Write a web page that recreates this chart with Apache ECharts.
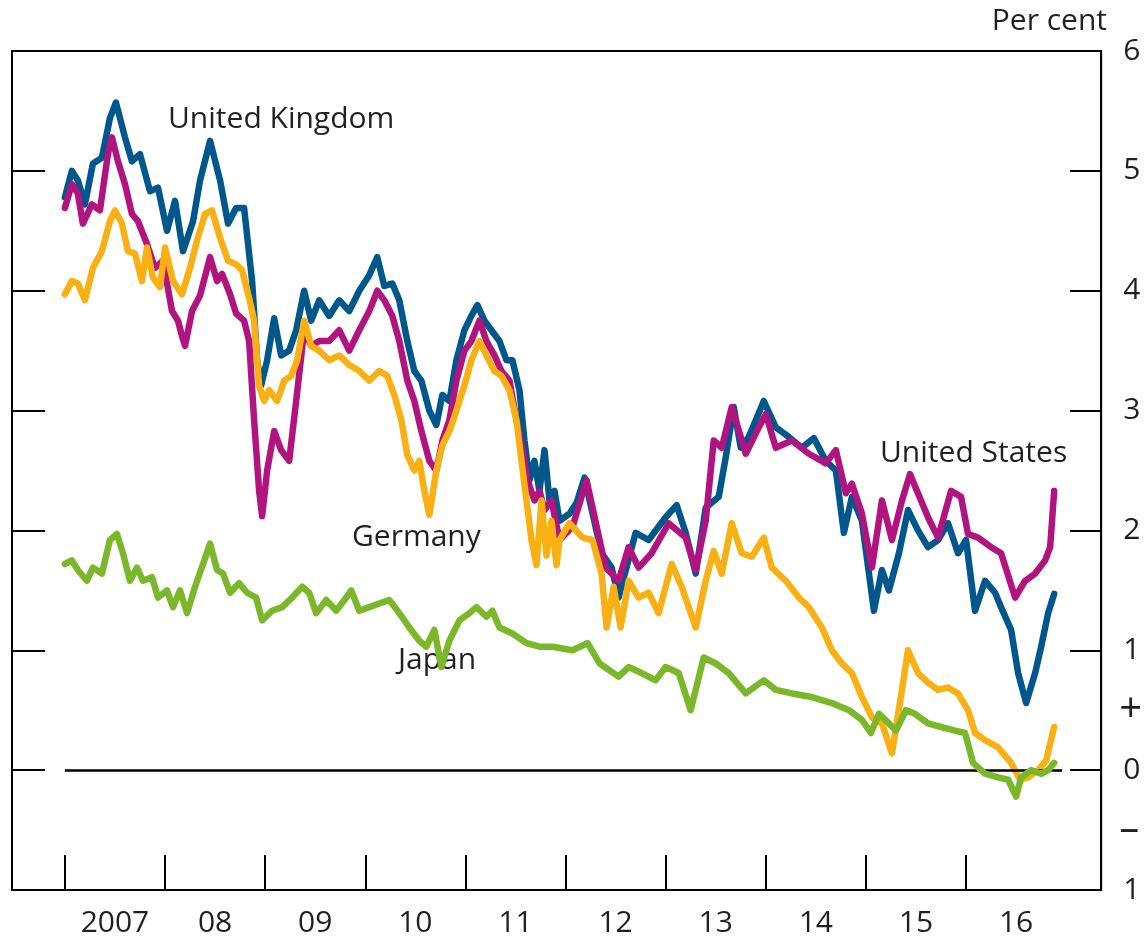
<!DOCTYPE html>
<html>
<head>
<meta charset="utf-8">
<title>Ten-year government bond yields</title>
<script src="https://cdn.jsdelivr.net/npm/echarts@6/dist/echarts.min.js"></script>
<style>
  html, body { margin: 0; padding: 0; background: #fff; }
  #chart { width: 1145px; height: 940px; }
</style>
</head>
<body>
<div id="chart"></div>
<script>
// [decimal year, per cent]
var unitedKingdom = [
  [2007.00, 4.78], [2007.07, 5.00], [2007.13, 4.92], [2007.20, 4.72], [2007.28, 5.06], [2007.37, 5.11],
  [2007.45, 5.44], [2007.51, 5.57], [2007.60, 5.28], [2007.67, 5.08], [2007.75, 5.14], [2007.85, 4.83],
  [2007.93, 4.86], [2008.02, 4.50], [2008.10, 4.75], [2008.18, 4.33], [2008.28, 4.58], [2008.35, 4.92],
  [2008.45, 5.25], [2008.55, 4.92], [2008.63, 4.56], [2008.71, 4.69], [2008.79, 4.69], [2008.87, 4.08],
  [2008.92, 3.42], [2008.96, 3.21], [2009.02, 3.42], [2009.09, 3.77], [2009.16, 3.46], [2009.24, 3.50],
  [2009.31, 3.67], [2009.39, 4.00], [2009.46, 3.75], [2009.54, 3.92], [2009.64, 3.79], [2009.74, 3.92],
  [2009.84, 3.83], [2009.94, 4.00], [2010.04, 4.13], [2010.12, 4.28], [2010.19, 4.04], [2010.27, 4.06],
  [2010.34, 3.92], [2010.42, 3.58], [2010.49, 3.33], [2010.56, 3.25], [2010.64, 3.00], [2010.71, 2.88],
  [2010.77, 3.13], [2010.84, 3.08], [2010.91, 3.42], [2010.99, 3.67], [2011.06, 3.79], [2011.12, 3.88],
  [2011.19, 3.75], [2011.26, 3.67], [2011.34, 3.58], [2011.41, 3.42], [2011.47, 3.42], [2011.54, 3.17],
  [2011.59, 2.75], [2011.64, 2.42], [2011.69, 2.58], [2011.74, 2.33], [2011.79, 2.67], [2011.84, 2.25],
  [2011.89, 2.33], [2011.94, 2.08], [2012.04, 2.14], [2012.11, 2.23], [2012.19, 2.44], [2012.27, 2.14],
  [2012.36, 1.81], [2012.46, 1.69], [2012.53, 1.44], [2012.70, 1.98], [2012.83, 1.92], [2013.00, 2.11],
  [2013.11, 2.21], [2013.20, 1.98], [2013.30, 1.64], [2013.40, 2.19], [2013.53, 2.28], [2013.60, 2.61],
  [2013.68, 3.03], [2013.75, 2.69], [2013.83, 2.78], [2013.90, 2.92], [2013.98, 3.08], [2014.10, 2.86],
  [2014.23, 2.78], [2014.36, 2.69], [2014.48, 2.77], [2014.60, 2.58], [2014.70, 2.50], [2014.78, 1.98],
  [2014.86, 2.28], [2014.96, 2.08], [2015.08, 1.33], [2015.16, 1.67], [2015.23, 1.50], [2015.33, 1.81],
  [2015.42, 2.17], [2015.52, 2.00], [2015.62, 1.86], [2015.72, 1.92], [2015.82, 2.06], [2015.92, 1.81],
  [2016.00, 1.92], [2016.09, 1.33], [2016.19, 1.58], [2016.29, 1.48], [2016.35, 1.36], [2016.45, 1.17],
  [2016.52, 0.81], [2016.60, 0.56], [2016.69, 0.81], [2016.75, 1.03], [2016.82, 1.31], [2016.88, 1.47]
];

var unitedStates = [
  [2007.00, 4.69], [2007.07, 4.89], [2007.13, 4.81], [2007.18, 4.56], [2007.27, 4.72], [2007.35, 4.67],
  [2007.43, 5.14], [2007.47, 5.28], [2007.53, 5.08], [2007.60, 4.89], [2007.67, 4.64], [2007.73, 4.58],
  [2007.82, 4.39], [2007.90, 4.19], [2007.98, 4.25], [2008.07, 3.83], [2008.13, 3.75], [2008.17, 3.62],
  [2008.20, 3.54], [2008.27, 3.83], [2008.35, 3.96], [2008.45, 4.28], [2008.52, 4.08], [2008.57, 4.14],
  [2008.65, 3.97], [2008.71, 3.81], [2008.79, 3.75], [2008.84, 3.58], [2008.89, 2.92], [2008.94, 2.33],
  [2008.97, 2.12], [2009.02, 2.50], [2009.09, 2.83], [2009.16, 2.67], [2009.24, 2.58], [2009.31, 3.08],
  [2009.39, 3.67], [2009.46, 3.54], [2009.54, 3.58], [2009.64, 3.58], [2009.74, 3.67], [2009.84, 3.50],
  [2009.94, 3.67], [2010.04, 3.83], [2010.12, 4.00], [2010.19, 3.92], [2010.27, 3.79], [2010.34, 3.58],
  [2010.42, 3.25], [2010.49, 3.08], [2010.56, 2.83], [2010.64, 2.58], [2010.71, 2.50], [2010.77, 2.75],
  [2010.84, 2.92], [2010.91, 3.25], [2010.99, 3.50], [2011.06, 3.58], [2011.14, 3.75], [2011.21, 3.58],
  [2011.29, 3.46], [2011.36, 3.33], [2011.44, 3.25], [2011.51, 2.92], [2011.57, 2.67], [2011.62, 2.42],
  [2011.69, 2.25], [2011.74, 2.33], [2011.79, 2.17], [2011.86, 2.25], [2011.94, 1.92], [2012.07, 2.03],
  [2012.21, 2.42], [2012.27, 2.19], [2012.40, 1.69], [2012.53, 1.58], [2012.63, 1.86], [2012.73, 1.69],
  [2012.86, 1.81], [2013.03, 2.06], [2013.20, 1.94], [2013.30, 1.67], [2013.40, 2.08], [2013.48, 2.75],
  [2013.56, 2.69], [2013.66, 3.03], [2013.80, 2.64], [2013.93, 2.86], [2014.00, 2.97], [2014.10, 2.69],
  [2014.26, 2.75], [2014.43, 2.64], [2014.60, 2.56], [2014.70, 2.67], [2014.80, 2.31], [2014.86, 2.39],
  [2014.96, 2.14], [2015.06, 1.69], [2015.16, 2.25], [2015.26, 1.92], [2015.36, 2.25], [2015.44, 2.47],
  [2015.52, 2.31], [2015.62, 2.11], [2015.72, 1.94], [2015.85, 2.33], [2015.95, 2.28], [2016.02, 1.97],
  [2016.12, 1.94], [2016.25, 1.86], [2016.35, 1.81], [2016.49, 1.44], [2016.59, 1.58], [2016.69, 1.64],
  [2016.79, 1.75], [2016.84, 1.86], [2016.88, 2.33]
];

var germany = [
  [2007.00, 3.97], [2007.07, 4.08], [2007.13, 4.06], [2007.20, 3.92], [2007.28, 4.19], [2007.37, 4.33],
  [2007.45, 4.58], [2007.50, 4.67], [2007.57, 4.56], [2007.63, 4.33], [2007.70, 4.31], [2007.77, 4.08],
  [2007.82, 4.36], [2007.88, 4.11], [2007.95, 4.03], [2008.00, 4.36], [2008.08, 4.08], [2008.17, 3.97],
  [2008.25, 4.19], [2008.32, 4.42], [2008.40, 4.64], [2008.47, 4.67], [2008.55, 4.44], [2008.63, 4.25],
  [2008.71, 4.22], [2008.77, 4.17], [2008.84, 3.94], [2008.89, 3.75], [2008.94, 3.21], [2008.99, 3.08],
  [2009.04, 3.17], [2009.12, 3.08], [2009.19, 3.25], [2009.26, 3.29], [2009.32, 3.42], [2009.39, 3.75],
  [2009.46, 3.54], [2009.54, 3.50], [2009.64, 3.42], [2009.74, 3.46], [2009.84, 3.38], [2009.94, 3.33],
  [2010.04, 3.25], [2010.14, 3.33], [2010.22, 3.29], [2010.29, 3.13], [2010.36, 2.92], [2010.42, 2.63],
  [2010.49, 2.50], [2010.54, 2.58], [2010.59, 2.33], [2010.64, 2.13], [2010.71, 2.50], [2010.77, 2.71],
  [2010.84, 2.83], [2010.91, 3.00], [2010.99, 3.21], [2011.06, 3.42], [2011.14, 3.58], [2011.21, 3.46],
  [2011.29, 3.33], [2011.36, 3.29], [2011.44, 3.17], [2011.51, 2.92], [2011.56, 2.58], [2011.61, 2.25],
  [2011.66, 1.92], [2011.71, 1.71], [2011.76, 2.25], [2011.81, 1.79], [2011.86, 2.08], [2011.91, 1.71],
  [2011.94, 1.92], [2012.04, 2.06], [2012.17, 1.94], [2012.27, 1.92], [2012.36, 1.64], [2012.41, 1.19],
  [2012.48, 1.53], [2012.55, 1.19], [2012.63, 1.58], [2012.73, 1.44], [2012.83, 1.48], [2012.93, 1.31],
  [2013.06, 1.72], [2013.16, 1.53], [2013.30, 1.19], [2013.40, 1.58], [2013.48, 1.83], [2013.56, 1.64],
  [2013.66, 2.06], [2013.76, 1.81], [2013.86, 1.78], [2013.98, 1.94], [2014.06, 1.69], [2014.20, 1.58],
  [2014.33, 1.44], [2014.43, 1.36], [2014.56, 1.19], [2014.66, 1.00], [2014.76, 0.89], [2014.86, 0.81],
  [2014.96, 0.61], [2015.06, 0.44], [2015.16, 0.39], [2015.26, 0.14], [2015.36, 0.67], [2015.42, 1.00],
  [2015.52, 0.81], [2015.62, 0.73], [2015.72, 0.67], [2015.82, 0.69], [2015.92, 0.64], [2016.02, 0.50],
  [2016.09, 0.31], [2016.19, 0.25], [2016.32, 0.19], [2016.45, 0.06], [2016.54, -0.08], [2016.62, -0.06],
  [2016.72, 0.00], [2016.80, 0.08], [2016.88, 0.36]
];

var japan = [
  [2007.00, 1.72], [2007.07, 1.75], [2007.13, 1.67], [2007.22, 1.58], [2007.28, 1.69], [2007.37, 1.64],
  [2007.45, 1.92], [2007.52, 1.97], [2007.58, 1.81], [2007.65, 1.58], [2007.72, 1.69], [2007.78, 1.58],
  [2007.87, 1.61], [2007.93, 1.44], [2008.02, 1.50], [2008.08, 1.36], [2008.15, 1.50], [2008.22, 1.31],
  [2008.30, 1.53], [2008.38, 1.72], [2008.45, 1.89], [2008.52, 1.67], [2008.58, 1.64], [2008.65, 1.48],
  [2008.74, 1.56], [2008.82, 1.48], [2008.91, 1.44], [2008.97, 1.25], [2009.07, 1.33], [2009.17, 1.36],
  [2009.27, 1.44], [2009.37, 1.53], [2009.44, 1.48], [2009.51, 1.31], [2009.61, 1.42], [2009.71, 1.33],
  [2009.81, 1.44], [2009.86, 1.50], [2009.94, 1.33], [2010.04, 1.36], [2010.14, 1.39], [2010.24, 1.42],
  [2010.34, 1.31], [2010.44, 1.19], [2010.54, 1.08], [2010.61, 1.03], [2010.69, 1.17], [2010.76, 0.86],
  [2010.84, 1.08], [2010.94, 1.25], [2011.04, 1.31], [2011.11, 1.36], [2011.21, 1.28], [2011.27, 1.33],
  [2011.34, 1.19], [2011.47, 1.14], [2011.61, 1.06], [2011.74, 1.03], [2011.87, 1.03], [2012.07, 1.00],
  [2012.22, 1.06], [2012.34, 0.89], [2012.53, 0.78], [2012.63, 0.86], [2012.76, 0.81], [2012.90, 0.75],
  [2013.00, 0.86], [2013.13, 0.81], [2013.25, 0.50], [2013.30, 0.67], [2013.38, 0.94], [2013.50, 0.89],
  [2013.63, 0.81], [2013.80, 0.64], [2013.98, 0.75], [2014.10, 0.67], [2014.26, 0.64], [2014.46, 0.61],
  [2014.66, 0.56], [2014.83, 0.50], [2014.96, 0.42], [2015.05, 0.31], [2015.13, 0.47], [2015.23, 0.39],
  [2015.30, 0.33], [2015.40, 0.50], [2015.49, 0.47], [2015.62, 0.39], [2015.75, 0.36], [2015.89, 0.33],
  [2015.99, 0.31], [2016.07, 0.06], [2016.19, -0.03], [2016.32, -0.06], [2016.42, -0.08], [2016.50, -0.22],
  [2016.55, -0.06], [2016.65, 0.00], [2016.75, -0.03], [2016.82, 0.00], [2016.88, 0.06]
];

var yearTicks = [2007, 2008, 2009, 2010, 2011, 2012, 2013, 2014, 2015, 2016];
var yearLabels = ['2007', '08', '09', '10', '11', '12', '13', '14', '15', '16'];
var yTicks = [-1, 0, 1, 2, 3, 4, 5, 6];
var yLabelValues = [-1, -0.5, 0, 0.5, 1, 2, 3, 4, 5, 6];

var FONT = '"Open Sans", "Noto Sans", sans-serif';
var TEXT = '#231f20';

var chartDom = document.getElementById('chart');
var myChart = echarts.init(chartDom);
var option;

var labelPositions = yearTicks.map(function (y) { return y + 0.5; });

function line(name, data, color, z) {
  return {
    name: name,
    type: 'line',
    data: data,
    showSymbol: false,
    symbol: 'none',
    z: z,
    lineStyle: { color: color, width: 6.5, join: 'round', cap: 'round' }
  };
}

option = {
  animation: false,
  backgroundColor: '#fff',
  grid: {
    left: 12,
    right: 42,
    top: 51,
    bottom: 50,
    show: true,
    borderColor: '#000',
    borderWidth: 2,
    backgroundColor: 'transparent'
  },
  xAxis: {
    type: 'value',
    min: 2006.472,
    max: 2017.349,
    axisLine: { show: true, onZero: false, lineStyle: { color: '#000', width: 2 } },
    splitLine: { show: false },
    axisTick: {
      show: true,
      inside: true,
      length: 35,
      customValues: yearTicks,
      lineStyle: { color: '#000', width: 2 }
    },
    axisLabel: {
      customValues: labelPositions,
      margin: 18,
      color: TEXT,
      fontFamily: FONT,
      fontSize: 30,
      formatter: function (v) {
        var i = labelPositions.indexOf(v);
        return i >= 0 ? yearLabels[i] : '';
      }
    }
  },
  yAxis: [
    {
      type: 'value',
      position: 'right',
      min: -1,
      max: 6,
      interval: 1,
      axisLine: { show: true, lineStyle: { color: '#000', width: 2 } },
      splitLine: { show: false },
      axisTick: {
        show: true,
        inside: true,
        length: 31,
        customValues: yTicks,
        lineStyle: { color: '#000', width: 2 }
      },
      axisLabel: {
        customValues: yLabelValues,
        margin: 22,
        color: TEXT,
        fontFamily: FONT,
        fontSize: 30,
        formatter: function (v) {
          if (v === 0.5) return '{sign|+}';
          if (v === -0.5) return '{sign|\u2013}';
          return String(Math.abs(v));
        },
        rich: {
          sign: { fontSize: 40, fontFamily: FONT, color: TEXT, padding: [0, 0, 0, -4] }
        }
      }
    },
    {
      type: 'value',
      position: 'left',
      min: -1,
      max: 6,
      interval: 1,
      axisLine: { show: true, lineStyle: { color: '#000', width: 2 } },
      splitLine: { show: false },
      axisTick: {
        show: true,
        inside: true,
        length: 33,
        customValues: yTicks,
        lineStyle: { color: '#000', width: 2 }
      },
      axisLabel: { show: false }
    }
  ],
  series: [
    line('United Kingdom', unitedKingdom, '#00578c', 2),
    line('United States', unitedStates, '#b1147f', 3),
    line('Germany', germany, '#f9b012', 4),
    line('Japan', japan, '#7ab82a', 5),
    {
      type: 'line',
      data: [],
      silent: true,
      markLine: {
        silent: true,
        symbol: 'none',
        label: { show: false },
        lineStyle: { color: '#000', width: 2.5, type: 'solid' },
        data: [[{ coord: [2007, 0] }, { coord: [2016.96, 0] }]]
      }
    }
  ],
  graphic: [
    { type: 'text', right: 38, top: 6, style: { text: 'Per cent', fill: TEXT, font: '30px ' + FONT } },
    { type: 'text', left: 168, top: 104, style: { text: 'United Kingdom', fill: TEXT, font: '30px ' + FONT } },
    { type: 'text', left: 880, top: 438, style: { text: 'United States', fill: TEXT, font: '30px ' + FONT } },
    { type: 'text', left: 352, top: 522, style: { text: 'Germany', fill: TEXT, font: '30px ' + FONT } },
    { type: 'text', left: 398, top: 645, style: { text: 'Japan', fill: TEXT, font: '30px ' + FONT } }
  ]
};

option && myChart.setOption(option);
</script>
</body>
</html>
